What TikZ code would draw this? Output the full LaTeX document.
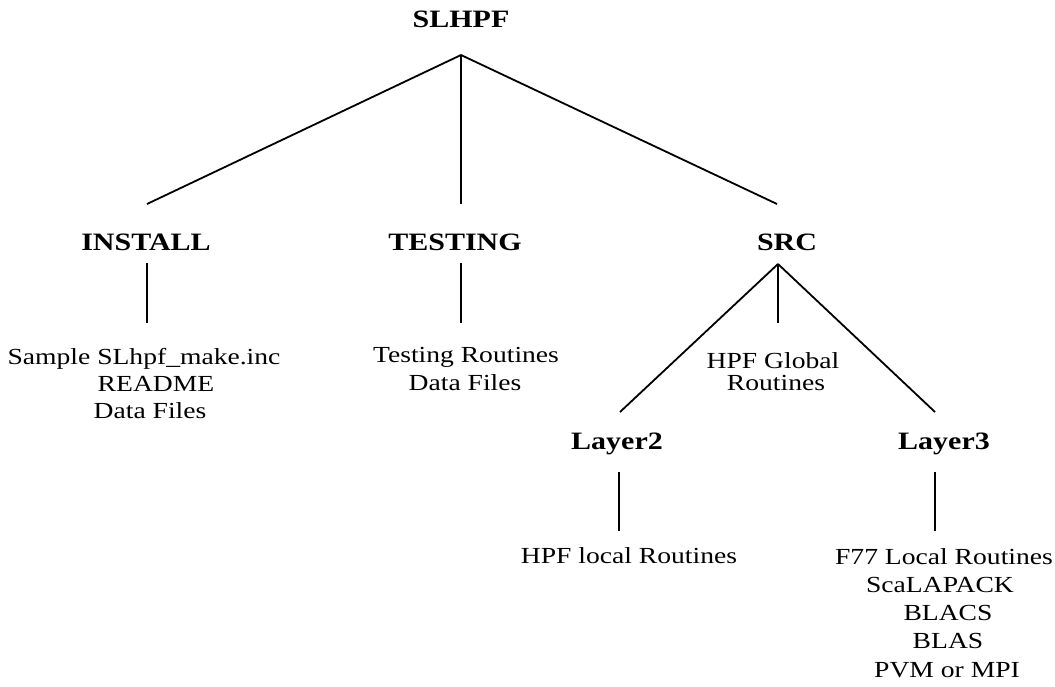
\documentclass[tikz,border=0pt]{standalone}
\usepackage{fontspec}
\setmainfont{Liberation Serif}[FakeStretch=1.2]
\begin{document}
\begin{tikzpicture}[x=1pt,y=-1pt,
  head/.style={anchor=base,inner sep=0pt,font=\fontsize{25}{30}\selectfont\bfseries},
  leaf/.style={anchor=base,inner sep=0pt,font=\fontsize{23}{28}\selectfont},
  conn/.style={draw=black,line width=1.8pt}]
\useasboundingbox[fill=white] (0,0) rectangle (1055,686);
% headings
\node[head] (slhpf) at (461,27) {SLHPF};
\node[head] (install) at (146,250) {INSTALL};
\node[head] (testing) at (455,250) {TESTING};
\node[head] (src) at (787,250) {SRC};
\node[head] (layer2) at (617,449) {Layer2};
\node[head] (layer3) at (944,449) {Layer3};
% leaves
\node[leaf] (inst1) at (144,364) {Sample SLhpf\_make.inc};
\node[leaf] (inst2) at (156,391) {README};
\node[leaf] (inst3) at (150,418) {Data Files};
\node[leaf] (test1) at (466,362) {Testing Routines};
\node[leaf] (test2) at (465,390) {Data Files};
\node[leaf] (glob1) at (773,368) {HPF Global};
\node[leaf] (glob2) at (776,390) {Routines};
\node[leaf] (loc2) at (629,563) {HPF local Routines};
\node[leaf] (l3a) at (944,564) {F77 Local Routines};
\node[leaf] (l3b) at (940,592) {ScaLAPACK};
\node[leaf] (l3c) at (948,620) {BLACS};
\node[leaf] (l3d) at (948,648) {BLAS};
\node[leaf] (l3e) at (947,677) {PVM or MPI};
% joints
\coordinate (rootJ) at (461,55);
\coordinate (rootL) at (147,204);
\coordinate (rootM) at (461,204);
\coordinate (rootR) at (777,204);
\coordinate (instT) at (147,263);
\coordinate (instB) at (147,323);
\coordinate (testT) at (461,263);
\coordinate (testB) at (461,323);
\coordinate (srcJ) at (778,264);
\coordinate (srcL) at (620,412);
\coordinate (srcM) at (778,323);
\coordinate (srcR) at (935,412);
\coordinate (l2T) at (619,472);
\coordinate (l2B) at (619,531);
\coordinate (l3T) at (935,472);
\coordinate (l3B) at (935,531);
% connectors
\draw[conn] (rootJ) -- (rootL);
\draw[conn] (rootJ) -- (rootM);
\draw[conn] (rootJ) -- (rootR);
\draw[conn] (instT) -- (instB);
\draw[conn] (testT) -- (testB);
\draw[conn] (srcJ) -- (srcL);
\draw[conn] (srcJ) -- (srcM);
\draw[conn] (srcJ) -- (srcR);
\draw[conn] (l2T) -- (l2B);
\draw[conn] (l3T) -- (l3B);
\end{tikzpicture}
\end{document}
